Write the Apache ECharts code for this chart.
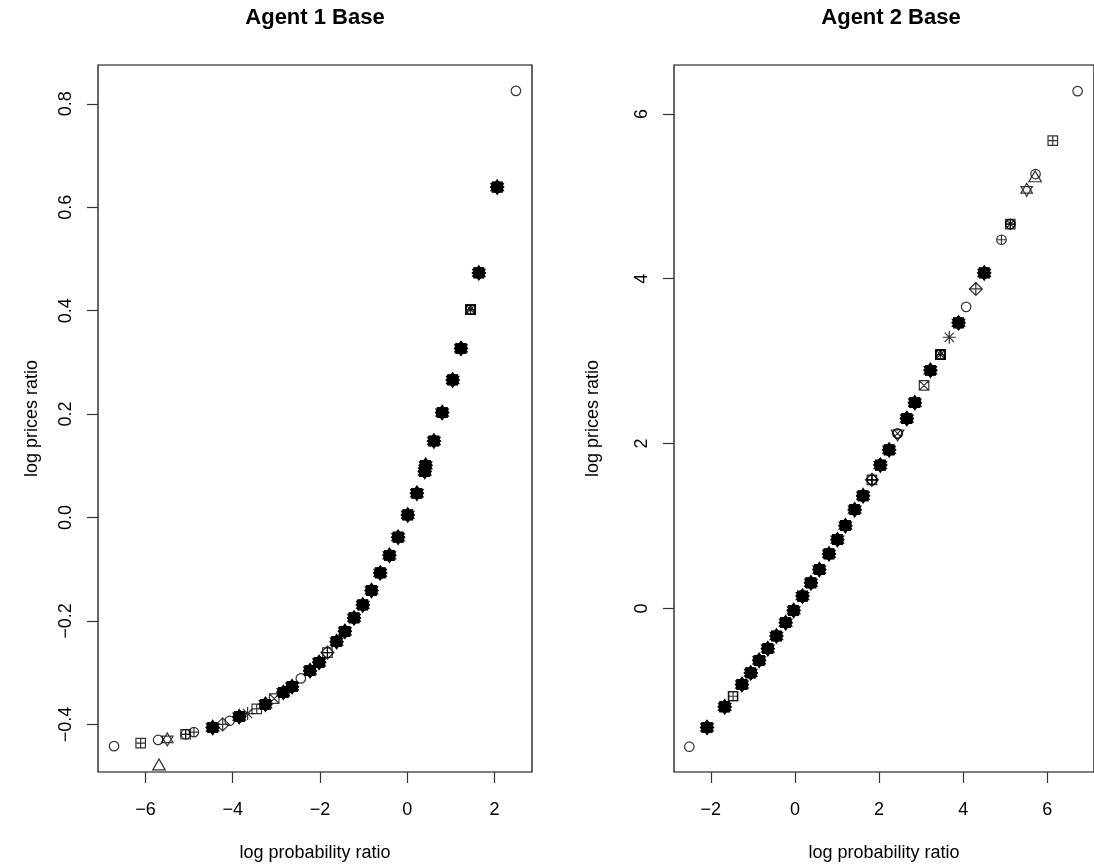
<!DOCTYPE html>
<html>
<head>
<meta charset="utf-8">
<script src="https://cdn.jsdelivr.net/npm/echarts@6/dist/echarts.min.js"></script>
<style>
html,body{margin:0;padding:0;background:#fff;}
#chart{width:1094px;height:867px;}
</style>
</head>
<body>
<div id="chart"></div>
<script>
// ---------------- DATA ----------------
const titles = ['Agent 1 Base', 'Agent 2 Base'];
const xName = 'log probability ratio';
const yName = 'log prices ratio';

const leftXTicks = [-6, -4, -2, 0, 2];
const leftYTicks = [-0.4, -0.2, 0.0, 0.2, 0.4, 0.6, 0.8];
const rightXTicks = [-2, 0, 2, 4, 6];
const rightYTicks = [0, 2, 4, 6];

// points where all marker series overlap (drawn as dense blobs)
const leftDenseX = [-4.46, -3.85, -3.25, -2.84, -2.64, -2.23, -2.02, -1.62, -1.43, -1.22, -1.02, -0.82, -0.62, -0.41, -0.21, 0.01, 0.22, 0.40, 0.42, 0.61, 0.80, 1.04, 1.23, 1.64, 2.06];
const leftDenseY = [-0.406, -0.385, -0.361, -0.338, -0.327, -0.296, -0.280, -0.240, -0.220, -0.194, -0.169, -0.141, -0.107, -0.073, -0.038, 0.005, 0.047, 0.089, 0.101, 0.148, 0.203, 0.266, 0.327, 0.473, 0.639];
// points belonging to only some marker series (pch codes joined with '+')
const leftOtherX = [-6.72, -6.11, -5.71, -5.50, -5.69, -5.08, -4.89, -4.23, -4.07, -3.66, -3.45, -3.05, -2.44, -1.83, 1.45, 2.49];
const leftOtherY = [-0.442, -0.436, -0.430, -0.429, -0.481, -0.419, -0.415, -0.400, -0.393, -0.379, -0.370, -0.350, -0.311, -0.261, 0.402, 0.825];
const leftOtherPch = ['1', '12', '1', '11', '2', '10+12', '10', '9', '1', '8', '12', '7', '1', '9+12', '0+7+12+14', '1'];

const rightDenseX = [-2.09, -1.67, -1.26, -1.05, -0.85, -0.645, -0.44, -0.22, -0.03, 0.18, 0.38, 0.58, 0.81, 1.01, 1.20, 1.42, 1.62, 2.03, 2.24, 2.66, 2.85, 3.22, 3.89, 4.50];
const rightDenseY = [-1.443, -1.193, -0.923, -0.782, -0.629, -0.488, -0.334, -0.173, -0.024, 0.150, 0.311, 0.472, 0.662, 0.835, 1.004, 1.198, 1.367, 1.739, 1.924, 2.304, 2.497, 2.890, 3.465, 4.070];
const rightOtherX = [-2.51, -1.47, 1.83, 2.44, 3.07, 3.46, 3.67, 4.07, 4.30, 4.91, 5.12, 5.51, 5.72, 5.71, 6.13, 6.72];
const rightOtherY = [-1.677, -1.065, 1.561, 2.122, 2.707, 3.080, 3.290, 3.659, 3.876, 4.473, 4.663, 5.078, 5.270, 5.220, 5.675, 6.276];
const rightOtherPch = ['1', '0+12', '9+10+12', '6+1+13', '7', '0+7+12+14', '8', '1', '9', '10', '10+12+13', '11', '1', '2', '12', '1'];

// ---------------- STYLE ----------------
const CIRC = 'M-1,0A1,1,0,1,0,1,0A1,1,0,1,0,-1,0Z';
const SQ = 'M-1,-1L1,-1L1,1L-1,1Z';
const PLUS = 'M-1,0L1,0M0,-1L0,1';
const XX = 'M-1,-1L1,1M1,-1L-1,1';
const XC = 'M-0.7071,-0.7071L0.7071,0.7071M0.7071,-0.7071L-0.7071,0.7071';
const PCH = {
  0:  {path: SQ, size: 8.5},
  1:  {path: CIRC, size: 9.5},
  2:  {path: 'M0,-1L0.866,0.5L-0.866,0.5Z', size: [12.5, 10.8], offset: [0, -1.8]},
  3:  {path: PLUS, size: 13},
  4:  {path: XX, size: 9.5},
  5:  {path: 'M0,-1L1,0L0,1L-1,0Z', size: 13},
  6:  {path: 'M0,1L0.866,-0.5L-0.866,-0.5Z', size: [12.5, 10.8], offset: [0, 1.8]},
  7:  {path: SQ + XX, size: 9.5},
  8:  {path: 'M-1,0L1,0M0,-1L0,1' + XC, size: 13},
  9:  {path: 'M0,-1L1,0L0,1L-1,0Z' + PLUS, size: 13},
  10: {path: CIRC + 'M-1,0L1,0M0,-1L0,1', size: 9.5},
  11: {path: 'M0,-1L0.866,0.5L-0.866,0.5ZM0,1L0.866,-0.5L-0.866,-0.5Z', size: [11.5, 13]},
  12: {path: SQ + PLUS, size: 9.5},
  13: {path: CIRC + XC, size: 9.5},
  14: {path: SQ + 'M-1,1L0,-1L1,1', size: 9.5}
};
const FONT = '"Liberation Sans", Arial, Helvetica, sans-serif';
const fmtNum = (v, d) => {
  const s = Math.abs(v).toFixed(d);
  return (v < -1e-9 ? '\u2212' : '') + s;
};

function buildSeries(gi, denseX, denseY, otherX, otherY, otherPch) {
  const out = [];
  const dense = denseX.map((x, i) => [x, denseY[i]]);
  out.push({
    type: 'scatter', xAxisIndex: gi, yAxisIndex: gi, silent: true,
    symbol: 'rect', symbolSize: 10.5,
    itemStyle: {color: '#000', borderWidth: 0},
    emphasis: {disabled: true},
    data: dense, z: 2
  });
  for (let k = 0; k <= 14; k++) {
    const pts = dense.slice();
    otherX.forEach((x, i) => {
      if (otherPch[i].split('+').map(Number).includes(k)) pts.push([x, otherY[i]]);
    });
    const def = PCH[k];
    out.push({
      type: 'scatter', xAxisIndex: gi, yAxisIndex: gi, silent: true,
      symbol: 'path://' + def.path,
      symbolSize: def.size,
      symbolOffset: def.offset || [0, 0],
      itemStyle: {color: 'rgba(0,0,0,0)', borderColor: '#000', borderWidth: 1.2},
      emphasis: {disabled: true},
      data: pts, z: 3
    });
  }
  return out;
}

function xAxisDef(gi, min, max, ticks) {
  return {
    type: 'value', gridIndex: gi, min: min, max: max,
    name: xName, nameLocation: 'middle', nameGap: 72,
    nameTextStyle: {fontFamily: FONT, fontSize: 18, color: '#000'},
    axisLine: {show: false, onZero: false},
    axisTick: {show: true, length: 11, inside: false, customValues: ticks, lineStyle: {color: '#333', width: 1.2}},
    axisLabel: {customValues: ticks, margin: 29, fontFamily: FONT, fontSize: 18, color: '#000',
      formatter: v => fmtNum(v, 0)},
    splitLine: {show: false}
  };
}
function yAxisDef(gi, min, max, ticks, dec, gap) {
  return {
    type: 'value', gridIndex: gi, min: min, max: max,
    name: yName, nameLocation: 'middle', nameGap: gap,
    nameTextStyle: {fontFamily: FONT, fontSize: 18, color: '#000'},
    axisLine: {show: false, onZero: false},
    axisTick: {show: true, length: 11, inside: false, customValues: ticks, lineStyle: {color: '#333', width: 1.2}},
    axisLabel: {customValues: ticks, margin: 23, rotate: 90, fontFamily: FONT, fontSize: 18, color: '#000',
      formatter: v => fmtNum(v, dec)},
    splitLine: {show: false}
  };
}

const chart = echarts.init(document.getElementById('chart'), null, {renderer: 'canvas'});
chart.setOption({
  animation: false,
  backgroundColor: '#fff',
  title: [
    {text: titles[0], left: 315, top: 7, padding: 0, textAlign: 'center',
      textStyle: {fontFamily: FONT, fontSize: 22, fontWeight: 'bold', color: '#000'}},
    {text: titles[1], left: 891, top: 7, padding: 0, textAlign: 'center',
      textStyle: {fontFamily: FONT, fontSize: 22, fontWeight: 'bold', color: '#000'}}
  ],
  grid: [
    {left: 98, top: 65, width: 434, height: 709, show: true, borderColor: '#000', borderWidth: 1.2, backgroundColor: 'transparent'},
    {left: 674, top: 65, width: 434, height: 709, show: true, borderColor: '#000', borderWidth: 1.2, backgroundColor: 'transparent'}
  ],
  xAxis: [
    xAxisDef(0, -7.088, 2.858, leftXTicks),
    xAxisDef(1, -2.875, 7.11, rightXTicks)
  ],
  yAxis: [
    yAxisDef(0, -0.492, 0.875, leftYTicks, 1, 57),
    yAxisDef(1, -1.984, 6.593, rightYTicks, 0, 72)
  ],
  series: [].concat(
    buildSeries(0, leftDenseX, leftDenseY, leftOtherX, leftOtherY, leftOtherPch),
    buildSeries(1, rightDenseX, rightDenseY, rightOtherX, rightOtherY, rightOtherPch)
  )
});
</script>
</body>
</html>
